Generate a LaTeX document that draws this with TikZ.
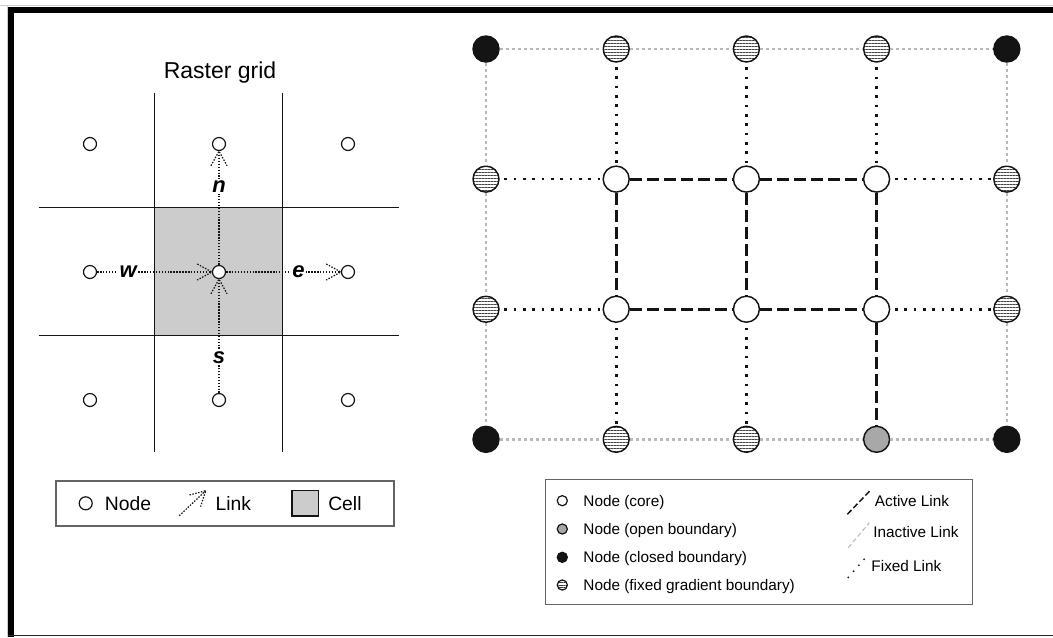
\documentclass[tikz,border=0pt]{standalone}
\usepackage{fontspec}
\setmainfont{Liberation Sans}
\usetikzlibrary{patterns.meta,decorations.markings}
\definecolor{cellgray}{RGB}{204,204,204}
\definecolor{opengray}{RGB}{168,168,168}
\definecolor{inactgray}{RGB}{185,185,185}
\definecolor{ink}{RGB}{20,20,20}
\definecolor{boxgray}{RGB}{100,100,100}
\tikzset{
  gridline/.style={draw=ink, line width=1pt},
  gnode/.style={circle, draw=ink, fill=white, line width=0.9pt, minimum size=9.75pt, inner sep=0pt},
  chev/.style={draw=ink, line width=0.9pt, dash pattern=on 1.1pt off 1.1pt},
  glink/.style={draw=ink, line width=0.9pt, dash pattern=on 1.1pt off 1.1pt,
    postaction={decorate},
    decoration={markings, mark=at position 1 with {\draw[chev] (-11pt,6pt) -- (0pt,0pt) -- (-11pt,-6pt);}}},
  glabel/.style={fill=white, inner sep=1.2pt, font=\fontsize{16.5}{18}\selectfont\bfseries\itshape},
  titletext/.style={font=\fontsize{17.25}{20}\selectfont, inner sep=0pt},
  legtext/.style={font=\fontsize{14.5}{17}\selectfont, inner sep=0pt, anchor=base west},
  rlegtext/.style={font=\fontsize{11.5}{14}\selectfont, inner sep=0pt, anchor=base west},
  legbox/.style={draw=boxgray, line width=1pt, inner sep=0pt},
  rnode/.style={circle, draw=ink, line width=1.1pt, minimum size=19.5pt, inner sep=0pt},
  core/.style={rnode, fill=white},
  closedb/.style={rnode, fill=ink},
  openb/.style={rnode, fill=opengray},
  fixb/.style={rnode, pattern={Lines[angle=0, distance=2.25pt, line width=0.6pt]}, pattern color=ink!80},
  snode/.style={circle, draw=ink, line width=0.9pt, minimum size=7.6pt, inner sep=0pt},
  sfix/.style={snode, pattern={Lines[angle=0, distance=1.7pt, line width=0.45pt]}, pattern color=ink!85},
  active/.style={draw=ink, line width=2.1pt, dash pattern=on 9pt off 3.75pt},
  inactive/.style={draw=inactgray, line width=1.8pt, dash pattern=on 2.3pt off 2.2pt},
  fixed/.style={draw=ink, line width=2pt, dash pattern=on 2pt off 5pt, dash phase=3.5pt},
  activeS/.style={draw=ink, line width=1.1pt, dash pattern=on 4.5pt off 2pt},
  inactiveS/.style={draw=inactgray, line width=0.8pt, dash pattern=on 3.5pt off 2pt},
  fixedS/.style={draw=ink, line width=1.5pt, line cap=round, dash pattern=on 0pt off 6pt},
}
\begin{document}
\begin{tikzpicture}[x=0.75pt, y=-0.75pt]
\useasboundingbox (0,0) rectangle (1053,637);
% frame
\draw[black!20, line width=0.75pt] (0,5.5) -- (1053,5.5);
\draw[black!20, line width=0.75pt] (7.2,5.5) -- (7.2,637);
\fill[black] (8,7) rectangle (13.8,637);
\fill[black] (8,7) rectangle (1053,13.3);
\draw[black!85, line width=1.2pt] (8,635.3) -- (1053,635.3);

% ---------- left panel ----------
\node[titletext, anchor=base] (title) at (220,78.3) {Raster grid};
\fill[cellgray] (154.3,207.7) rectangle (282.7,335.7);
\draw[gridline] (154.3,93.3) -- (154.3,452);
\draw[gridline] (282.7,93.3) -- (282.7,452);
\draw[gridline] (38.7,207.7) -- (399,207.7);
\draw[gridline] (38.7,335.7) -- (399,335.7);

\node[gnode] (g00) at (90,144) {};
\node[gnode] (g10) at (219,144) {};
\node[gnode] (g20) at (348,144) {};
\node[gnode] (g01) at (90,272) {};
\node[gnode] (g11) at (219,272) {};
\node[gnode] (g21) at (348,272) {};
\node[gnode] (g02) at (90,400) {};
\node[gnode] (g12) at (219,400) {};
\node[gnode] (g22) at (348,400) {};

\draw[glink] (g11) -- node[glabel, pos=0.69] (ln) {n} (g10);
\draw[glink] (g01) -- node[glabel, pos=0.27] (lw) {w} (g11);
\draw[glink] (g11) -- node[glabel, pos=0.63] (le) {e} (g21);
\draw[glink] (g12) -- node[glabel, pos=0.31] (ls) {s} (g11);

% left legend
\node[legbox, minimum width=253.5pt, minimum height=33.75pt] (leg1) at (225,503.5) {};
\node[gnode] (lnode) at (85.7,503.3) {};
\node[legtext] (tnode) at (104.6,510) {Node};
\coordinate (lka) at (179.3,515.7);
\coordinate (lkb) at (205.7,490.7);
\draw[glink] (lka) -- (lkb);
\node[legtext] (tlink) at (215.3,510) {Link};
\node[draw=ink, line width=0.9pt, fill=cellgray, minimum width=19.7pt, minimum height=19pt, inner sep=0pt] (lcell) at (305.2,503.3) {};
\node[legtext] (tcell) at (328,510) {Cell};

% ---------- right panel ----------
\node[closedb] (m00) at (486,49) {};
\node[fixb]    (m10) at (616.2,49) {};
\node[fixb]    (m20) at (746.4,49) {};
\node[fixb]    (m30) at (876.6,49) {};
\node[closedb] (m40) at (1006.8,49) {};

\node[fixb] (m01) at (486,179.1) {};
\node[core] (m11) at (616.2,179.1) {};
\node[core] (m21) at (746.4,179.1) {};
\node[core] (m31) at (876.6,179.1) {};
\node[fixb] (m41) at (1006.8,179.1) {};

\node[fixb] (m02) at (486,309.2) {};
\node[core] (m12) at (616.2,309.2) {};
\node[core] (m22) at (746.4,309.2) {};
\node[core] (m32) at (876.6,309.2) {};
\node[fixb] (m42) at (1006.8,309.2) {};

\node[closedb] (m03) at (486,439.3) {};
\node[fixb]    (m13) at (616.2,439.3) {};
\node[fixb]    (m23) at (746.4,439.3) {};
\node[openb]   (m33) at (876.6,439.3) {};
\node[closedb] (m43) at (1006.8,439.3) {};

% inactive perimeter links
\draw[inactive] (m00) -- (m10);
\draw[inactive] (m10) -- (m20);
\draw[inactive] (m20) -- (m30);
\draw[inactive] (m30) -- (m40);
\draw[inactive] (m03) -- (m13);
\draw[inactive] (m13) -- (m23);
\draw[inactive] (m23) -- (m33);
\draw[inactive] (m33) -- (m43);
\draw[inactive] (m00) -- (m01);
\draw[inactive] (m01) -- (m02);
\draw[inactive] (m02) -- (m03);
\draw[inactive] (m40) -- (m41);
\draw[inactive] (m41) -- (m42);
\draw[inactive] (m42) -- (m43);

% fixed links
\draw[fixed] (m10) -- (m11);
\draw[fixed] (m20) -- (m21);
\draw[fixed] (m30) -- (m31);
\draw[fixed] (m01) -- (m11);
\draw[fixed] (m31) -- (m41);
\draw[fixed] (m02) -- (m12);
\draw[fixed] (m32) -- (m42);
\draw[fixed] (m12) -- (m13);
\draw[fixed] (m22) -- (m23);

% active links
\draw[active] (m11) -- (m21);
\draw[active] (m21) -- (m31);
\draw[active] (m12) -- (m22);
\draw[active] (m22) -- (m32);
\draw[active] (m11) -- (m12);
\draw[active] (m21) -- (m22);
\draw[active] (m31) -- (m32);
\draw[active] (m32) -- (m33);

% right legend
\node[legbox, line width=1.1pt, minimum width=320.4pt, minimum height=93.9pt] (leg2) at (759.1,541.9) {};
\node[snode, fill=white] (s1) at (562.3,500.7) {};
\node[snode, fill=opengray] (s2) at (562.3,529) {};
\node[snode, fill=ink] (s3) at (562.3,557.3) {};
\node[sfix] (s4) at (562.3,585) {};
\node[rlegtext] (t1) at (583.2,506) {Node (core)};
\node[rlegtext] (t2) at (583.2,534.3) {Node (open boundary)};
\node[rlegtext] (t3) at (583.2,562.7) {Node (closed boundary)};
\node[rlegtext] (t4) at (583.2,590.3) {Node (fixed gradient boundary)};

\coordinate (aa) at (847.3,514.3);
\coordinate (ab) at (870,490.7);
\draw[activeS] (aa) -- (ab);
\coordinate (ia) at (848.3,547.7);
\coordinate (ib) at (869.3,522.7);
\draw[inactiveS] (ia) -- (ib);
\coordinate (fa) at (848.3,577.3);
\coordinate (fb) at (869.3,553.3);
\draw[fixedS] (fa) -- (fb);
\node[rlegtext] (t5) at (874.6,506) {Active Link};
\node[rlegtext] (t6) at (873,537) {Inactive Link};
\node[rlegtext] (t7) at (871.2,571.7) {Fixed Link};
\end{tikzpicture}
\end{document}
